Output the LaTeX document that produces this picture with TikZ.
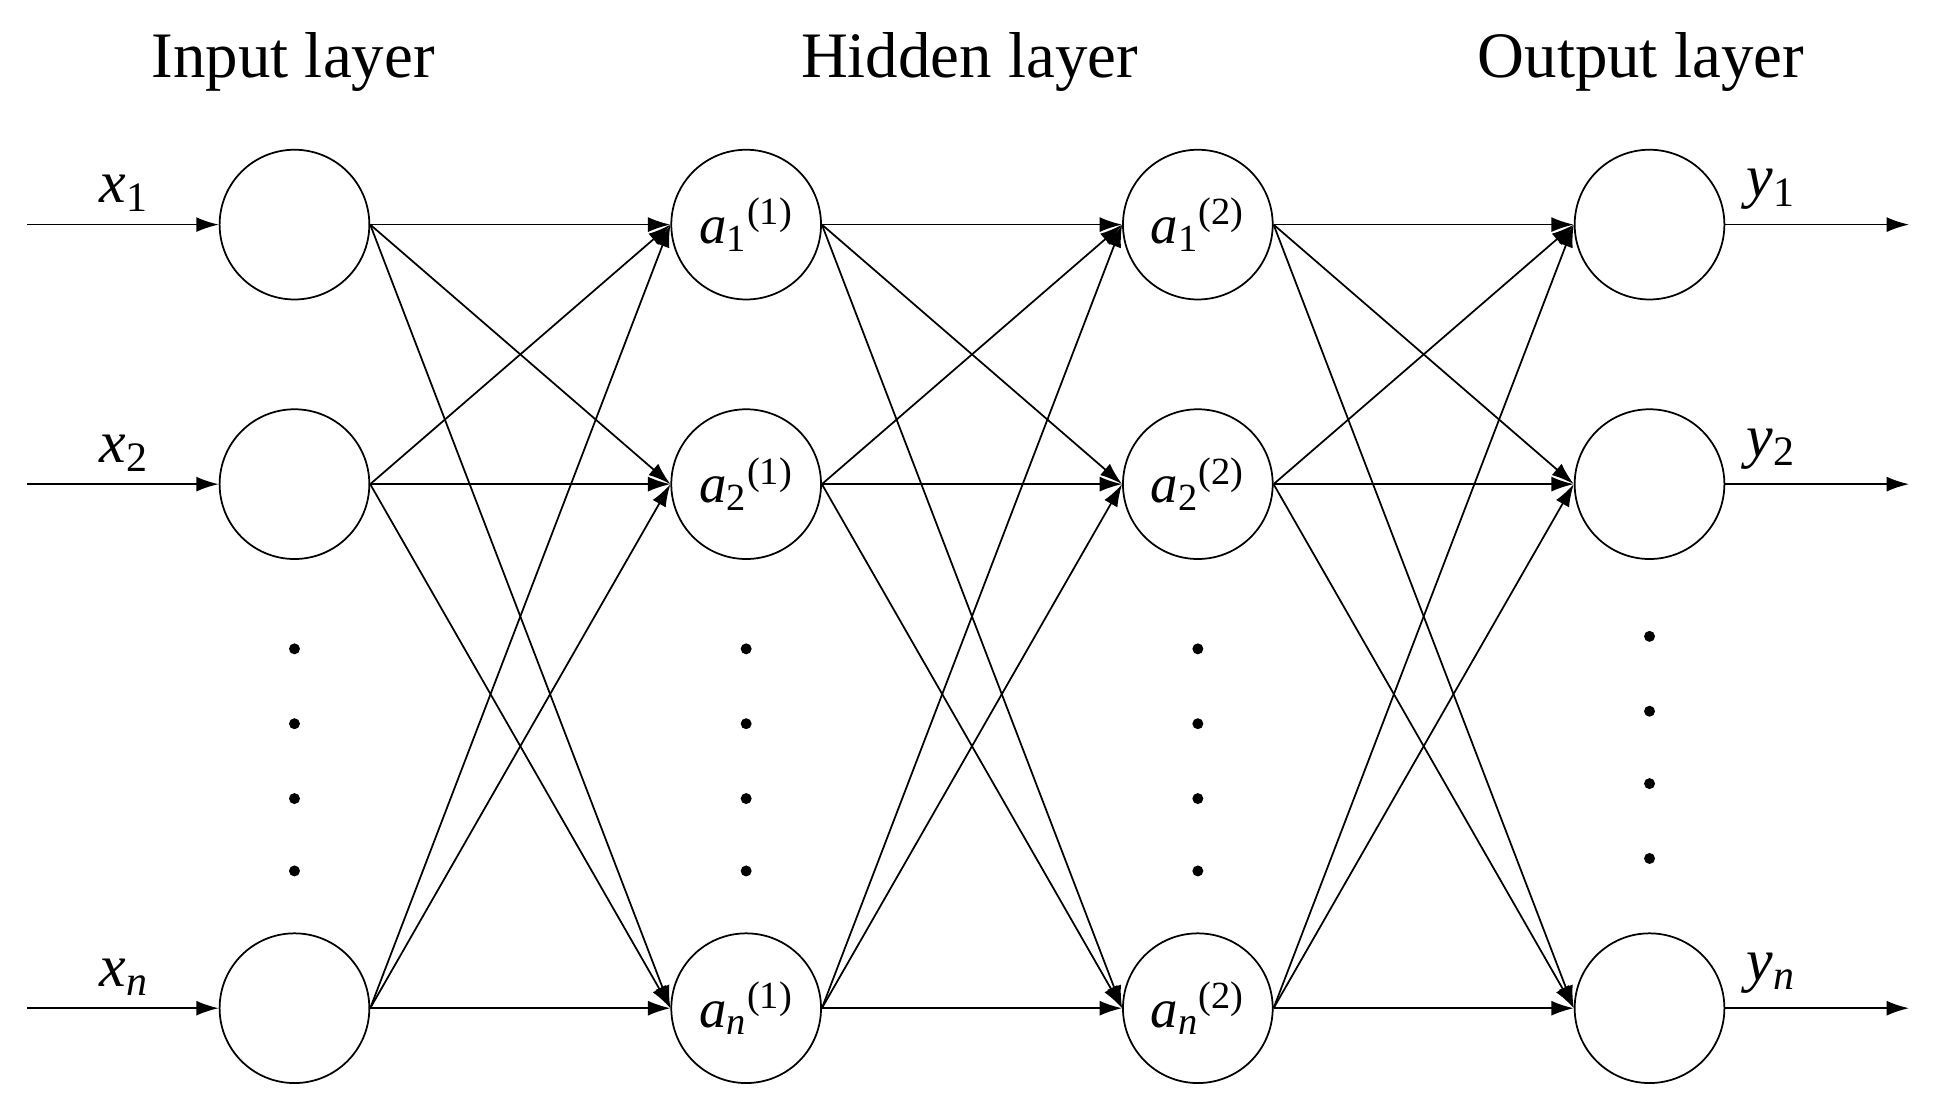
\documentclass[tikz,border=0pt]{standalone}
\usepackage{fontspec}
\setmainfont{Liberation Serif}
\usetikzlibrary{arrows,arrows.meta}
\newcommand{\lab}[3]{\textit{#1}\textsubscript{\upshape#2}\textsuperscript{\upshape#3}}
\begin{document}
\begin{tikzpicture}[x=0.5pt,y=-0.5pt]
\tikzstyle{place}=[circle, draw=black, line width=0.7pt, minimum size = 60pt, inner sep=0pt, font=\fontsize{22}{22}\selectfont]
\tikzstyle{conn}=[-{Latex[length=9pt,width=6pt]}, line width=0.7pt]
\tikzstyle{tag}=[font=\fontsize{24}{24}\selectfont]
\useasboundingbox (0,0) rectangle (1550,880);

% Input
\node at (236, 180) [place] (first_1) {};
\node at (236, 388) [place] (first_2) {};
\node at (236, 808) [place] (first_n) {};

% Hidden 1
\node at (598, 180) [place] (second_1) {\lab{a}{1}{(1)}};
\node at (598, 388) [place] (second_2) {\lab{a}{2}{(1)}};
\node at (598, 808) [place] (second_n) {\lab{a}{\itshape n}{(1)}};

% Hidden 2
\node at (960, 180) [place] (third_1) {\lab{a}{1}{(2)}};
\node at (960, 388) [place] (third_2) {\lab{a}{2}{(2)}};
\node at (960, 808) [place] (third_n) {\lab{a}{\itshape n}{(2)}};

% Output
\node at (1322, 180) [place] (fourth_1) {};
\node at (1322, 388) [place] (fourth_2) {};
\node at (1322, 808) [place] (fourth_n) {};

% dots
\foreach \x in {236,598,960}
\foreach \y in {520,580,640,698}
\fill (\x, \y) circle (2.2pt);
\foreach \y in {510,570,628,688}
\fill (1322, \y) circle (2.2pt);

% Connections
\foreach \i in {1,2,n}
\foreach \j in {1,2,n}
{
\draw [conn] (first_\i.east) to (second_\j.west);
\draw [conn] (second_\i.east) to (third_\j.west);
\draw [conn] (third_\i.east) to (fourth_\j.west);
}

% In and out
\foreach \i/\s/\y in {1/1/180,2/2/388,n/\itshape n/808}
{
\coordinate (in_\i) at (22, \y);
\coordinate (out_\i) at (1530, \y);
\draw [conn] (in_\i) to (first_\i.west);
\draw [conn] (fourth_\i.east) to (out_\i);
\node at (100, \y-25) [tag] (xlab_\i) {\lab{x}{\s}{}};
\node at (1420, \y-28) [tag] (ylab_\i) {\lab{y}{\s}{}};
}

% Text
\node at (235, 50) [font=\fontsize{26}{26}\selectfont] (t_in) {Input layer};
\node at (777, 50) [font=\fontsize{26}{26}\selectfont] (t_hid) {Hidden layer};
\node at (1315, 50) [font=\fontsize{26}{26}\selectfont] (t_out) {Output layer};
\end{tikzpicture}
\end{document}
